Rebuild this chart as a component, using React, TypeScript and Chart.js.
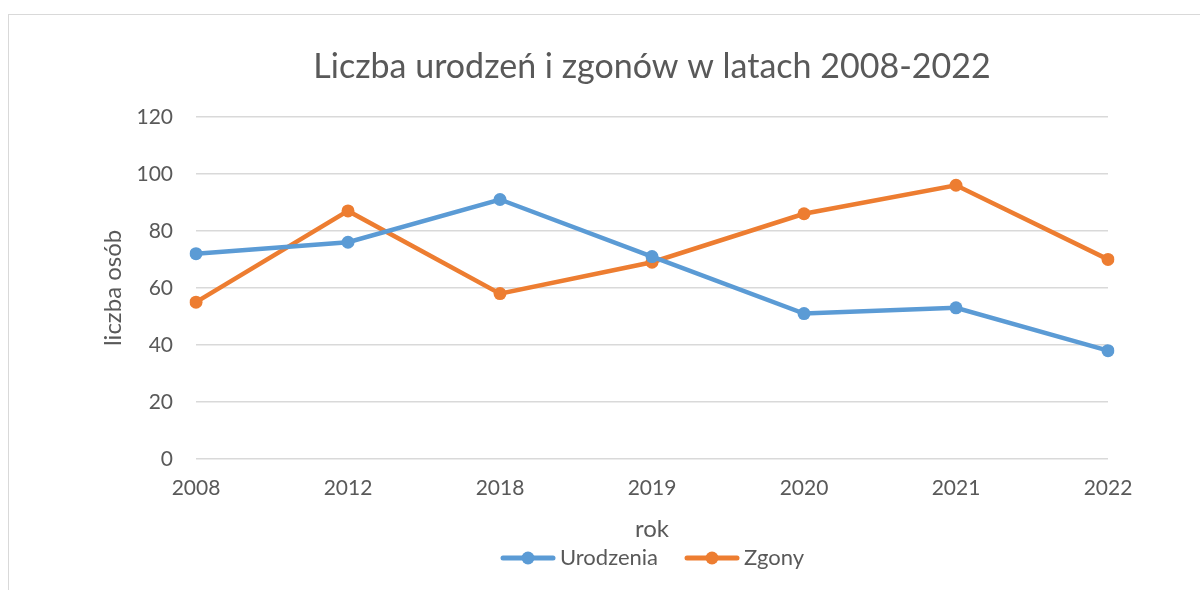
import React, { useEffect, useRef } from "react";
import { Chart, registerables } from "chart.js";

Chart.register(...registerables);

const years = ["2008", "2012", "2018", "2019", "2020", "2021", "2022"];
const urodzenia = [72, 76, 91, 71, 51, 53, 38];
const zgony = [55, 87, 58, 69, 86, 96, 70];
const seriesNames = ["Urodzenia", "Zgony"];
const chartTitle = "Liczba urodzeń i zgonów w latach 2008-2022";
const xTitle = "rok";
const yTitle = "liczba osób";

const BLUE = "#5B9BD5";
const ORANGE = "#ED7D31";
const TEXT = "#595959";
const FONT = "Lato, 'Open Sans', sans-serif";

function makeMarker(color: string, boxW: number) {
  const extra = 14;
  const W = boxW + extra;
  const H = 20;
  const c = document.createElement("canvas");
  c.width = W;
  c.height = H;
  const ctx = c.getContext("2d")!;
  const mw = 56;
  const x0 = W - mw;
  ctx.strokeStyle = color;
  ctx.lineWidth = 5;
  ctx.lineCap = "round";
  ctx.beginPath();
  ctx.moveTo(x0 + 3, H / 2);
  ctx.lineTo(W - 3, H / 2);
  ctx.stroke();
  ctx.fillStyle = color;
  ctx.beginPath();
  ctx.arc(x0 + mw / 2, H / 2, 6.5, 0, Math.PI * 2);
  ctx.fill();
  return c;
}

export default function App() {
  const ref = useRef<HTMLCanvasElement>(null);

  useEffect(() => {
    if (!ref.current) return;
    const boxW = 49;
    const markers = [makeMarker(BLUE, boxW), makeMarker(ORANGE, boxW)];
    const chart = new Chart(ref.current, {
      type: "line",
      data: {
        labels: years,
        datasets: [
          {
            label: seriesNames[0],
            data: urodzenia,
            borderColor: BLUE,
            backgroundColor: BLUE,
            borderWidth: 4.5,
            pointRadius: 6.5,
            pointHoverRadius: 6.5,
            pointBorderWidth: 0,
            tension: 0,
          },
          {
            label: seriesNames[1],
            data: zgony,
            borderColor: ORANGE,
            backgroundColor: ORANGE,
            borderWidth: 4.5,
            pointRadius: 6.5,
            pointHoverRadius: 6.5,
            pointBorderWidth: 0,
            tension: 0,
          },
        ],
      },
      options: {
        responsive: false,
        animation: false,
        layout: { padding: { left: 0, right: 92, top: 0, bottom: 11 } },
        scales: {
          x: {
            offset: false,
            grid: { display: false, drawTicks: false },
            border: { display: false },
            ticks: { color: TEXT, font: { family: FONT, size: 21 }, padding: 17, maxRotation: 0 },
            title: {
              display: true,
              text: xTitle,
              color: TEXT,
              font: { family: FONT, size: 24, lineHeight: 1 },
              padding: { top: 0, bottom: -20.5 },
            },
            afterFit: (s: any) => {
              s.height = 62;
              s.paddingLeft = 0;
              s.paddingRight = 0;
            },
          },
          y: {
            min: 0,
            max: 120,
            grid: { color: "#d9d9d9", lineWidth: 1.5, drawTicks: false },
            border: { display: false },
            ticks: { stepSize: 20, color: TEXT, font: { family: FONT, size: 21 }, padding: 23 },
            title: {
              display: true,
              text: yTitle,
              color: TEXT,
              font: { family: FONT, size: 24, lineHeight: 1 },
              padding: { top: 101, bottom: 0 },
            },
            afterFit: (s: any) => {
              s.width = 196;
              s.paddingTop = 0;
              s.paddingBottom = 0;
            },
          },
        },
        plugins: {
          title: {
            display: true,
            text: chartTitle,
            color: TEXT,
            fullSize: false,
            font: { family: FONT, size: 34, weight: "normal", lineHeight: 1.2 },
            padding: { top: 47, bottom: 29 },
          },
          legend: {
            position: "bottom",
            fullSize: false,
            labels: {
              color: TEXT,
              font: { family: FONT, size: 22 },
              usePointStyle: true,
              pointStyleWidth: boxW,
              padding: 26,
              generateLabels: (ch: any) => {
                const items = Chart.defaults.plugins.legend.labels.generateLabels(ch);
                return items.map((it: any, i: number) => ({ ...it, pointStyle: markers[i], fontColor: TEXT }));
              },
            },
          },
          tooltip: { enabled: false },
        },
      },
    });
    return () => chart.destroy();
  }, []);

  return (
    <div style={{ position: "fixed", left: 0, top: 0, width: 1200, height: 590, overflow: "hidden", background: "#fff" }}>
      <div
        style={{
          position: "absolute",
          left: 8,
          top: 14,
          width: 1400,
          height: 800,
          border: "1.5px solid #d9d9d9",
        }}
      />
      <canvas ref={ref} width={1200} height={590} style={{ position: "absolute", left: 0, top: 0 }} />
    </div>
  );
}
